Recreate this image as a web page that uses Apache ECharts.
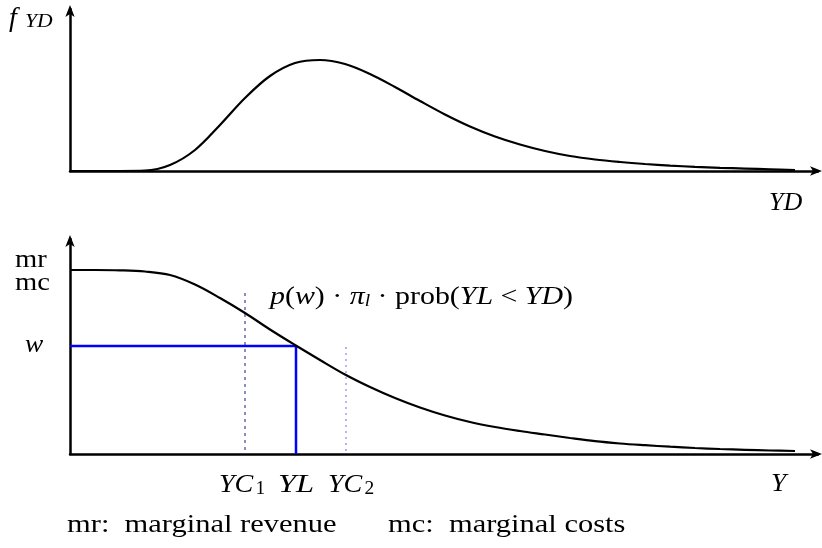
<!DOCTYPE html>
<html><head><meta charset="utf-8">
<script src="https://cdn.jsdelivr.net/npm/echarts@6/dist/echarts.min.js"></script>
<style>html,body{margin:0;padding:0;background:#fff}#c{width:822px;height:548px}</style>
</head><body><div id="c"></div>
<script>
// Top panel: density f_YD over YD (x in arbitrary units, y in arbitrary units)
const densityX = [0, 25, 50, 75, 100, 125, 150, 175, 200, 225, 250, 275, 300, 325, 350, 375, 400, 425, 450, 475, 500, 525, 550, 575, 600, 625, 650, 675, 700, 725];
const densityY = [0, 0, 0, 0.3, 6, 21, 46, 73, 95, 108, 111, 107, 97, 84, 70, 56.5, 44.5, 34.5, 26.5, 20, 15, 11.5, 9, 7, 5.4, 4.2, 3.2, 2.4, 1.7, 1];
// Bottom panel: mr / mc curve p(w)·π_l·prob(YL<YD) over Y
const mrX = [0, 25, 50, 75, 100, 125, 150, 175, 200, 225, 250, 275, 300, 325, 350, 375, 400, 425, 450, 475, 500, 525, 550, 575, 600, 625, 650, 675, 700, 725];
const mrY = [184, 184, 183.7, 182.5, 179, 169.5, 156, 141, 124.5, 109, 94, 79.5, 67, 56, 46.5, 38.5, 32, 27, 23, 19.5, 16, 12.8, 10.5, 8.8, 7.3, 6, 5, 4.2, 3.5, 3];
// Marked positions
const wLevel = 108;
const ylPos = 226;
const yc1Pos = 175, yc1Top = 161;
const yc2Pos = 276, yc2Top = 107;

const serif = '"Liberation Serif", "DejaVu Serif", serif';
const pts = (xs, ys) => xs.map((x, i) => [x, ys[i]]);

const axisCommon = {
  type: 'value', min: 0, splitLine: {show: false}, axisTick: {show: false}, axisLabel: {show: false},
  axisLine: {show: true, symbol: ['none', 'arrow'], symbolSize: [7, 12], symbolOffset: [0, 4], lineStyle: {color: '#000', width: 2.5}}
};

const chart = echarts.init(document.getElementById('c'));
const it = {fontFamily: serif, fontStyle: 'italic', fontSize: 26, fill: '#000'};
const rm = {fontFamily: serif, fontSize: 26, fill: '#000'};
const txt = (x, y, sx, style) => ({type: 'text', x: x, y: y, scaleX: sx,
  style: Object.assign({textVerticalAlign: 'top', verticalAlign: 'top'}, style)});
const subStyle = Object.assign({}, rm, {fontSize: 18, verticalAlign: 'bottom', padding: [0, 0, 0, 2]});
chart.setOption({
  animation: false,
  grid: [
    {left: 70, top: 9, width: 748, height: 162},
    {left: 70, top: 239, width: 748, height: 215}
  ],
  xAxis: [
    Object.assign({}, axisCommon, {gridIndex: 0, max: 748}),
    Object.assign({}, axisCommon, {gridIndex: 1, max: 748})
  ],
  yAxis: [
    Object.assign({}, axisCommon, {gridIndex: 0, max: 162}),
    Object.assign({}, axisCommon, {gridIndex: 1, max: 215})
  ],
  series: [
    {type: 'line', xAxisIndex: 0, yAxisIndex: 0, data: pts(densityX, densityY), smooth: 0.35, showSymbol: false,
     lineStyle: {color: '#000', width: 2.2}, z: 3},
    {type: 'line', xAxisIndex: 1, yAxisIndex: 1, data: pts(mrX, mrY), smooth: 0.35, showSymbol: false,
     lineStyle: {color: '#000', width: 2.2}, z: 3},
    {type: 'line', xAxisIndex: 1, yAxisIndex: 1, data: [[0, wLevel], [ylPos, wLevel], [ylPos, 0]], showSymbol: false,
     lineStyle: {color: '#0000ff', width: 2.5}, z: 2},
    {type: 'line', xAxisIndex: 1, yAxisIndex: 1, data: [[yc1Pos, yc1Top], [yc1Pos, 0]], showSymbol: false,
     lineStyle: {color: '#1a1a8a', width: 1, type: [3, 4]}, z: 1},
    {type: 'line', xAxisIndex: 1, yAxisIndex: 1, data: [[yc2Pos, yc2Top], [yc2Pos, 0]], showSymbol: false,
     lineStyle: {color: '#6a6aff', width: 1, type: [2, 4]}, z: 1}
  ],
  graphic: [
    txt(9, 5, 1, Object.assign({}, it, {text: 'f', fontSize: 28})),
    txt(25, 13, 1.2, Object.assign({}, it, {text: 'YD', fontSize: 18})),
    txt(769, 190, 1, Object.assign({}, it, {text: 'YD'})),
    txt(15, 247, 1.1, Object.assign({}, rm, {text: 'mr'})),
    txt(15, 270, 1.1, Object.assign({}, rm, {text: 'mc'})),
    txt(25, 332, 1.05, Object.assign({}, it, {text: 'w'})),
    txt(270, 284, 1.15, {
      text: '{i|p}{r|(}{i|w}{r|) · }{i|π}{s|l}{r| · prob(}{i|YL}{r| < }{i|YD}{r|)}',
      rich: {i: it, r: rm, s: Object.assign({}, it, {fontSize: 17, verticalAlign: 'bottom'})}}),
    txt(219, 472, 1.08, {text: '{i|YC}{s|1}', rich: {i: it, s: subStyle}}),
    txt(278, 472, 1.25, Object.assign({}, it, {text: 'YL'})),
    txt(328, 472, 1.08, {text: '{i|YC}{s|2}', rich: {i: it, s: subStyle}}),
    txt(771, 471, 1.05, Object.assign({}, it, {text: 'Y'})),
    txt(67, 513, 1.22, Object.assign({}, rm, {text: 'mr:  marginal revenue', fontSize: 25})),
    txt(388, 513, 1.22, Object.assign({}, rm, {text: 'mc:  marginal costs', fontSize: 25}))
  ]
});
</script></body></html>
